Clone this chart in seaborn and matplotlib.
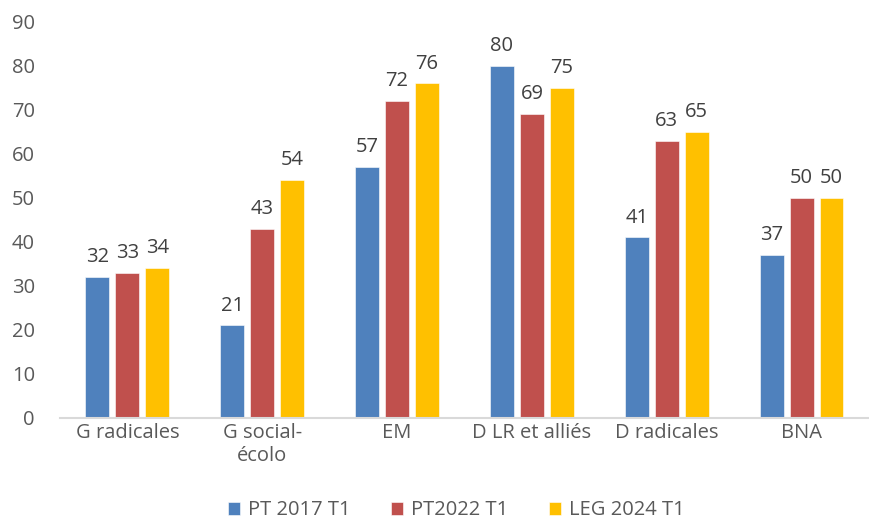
import pandas as pd
import matplotlib
matplotlib.use("Agg")
import matplotlib.pyplot as plt
import seaborn as sns

# Data
categories = ["G radicales", "G social-\nécolo", "EM", "D LR et alliés", "D radicales", "BNA"]
series = ["PT 2017 T1", "PT2022 T1", "LEG 2024 T1"]
pt2017 = [32, 21, 57, 80, 41, 37]
pt2022 = [33, 43, 72, 69, 63, 50]
leg2024 = [34, 54, 76, 75, 65, 50]
colors = ["#4F81BD", "#C0504D", "#FFC000"]

rows = []
for name, vals in zip(series, [pt2017, pt2022, leg2024]):
    for cat, v in zip(categories, vals):
        rows.append({"Groupe": cat, "Scrutin": name, "Valeur": v})
data = pd.DataFrame(rows)

sns.set_style("white")
plt.rcParams["font.family"] = ["Open Sans", "DejaVu Sans"]

fig = plt.figure(figsize=(8.69, 5.19), dpi=100)
ax = fig.add_axes([0.069, 0.195, 0.931, 0.763])

sns.barplot(data=data, x="Groupe", y="Valeur", hue="Scrutin", palette=colors,
            width=0.666, gap=0.2, ax=ax, legend=True, saturation=1,
            edgecolor="white", linewidth=0.4)

for c in ax.containers:
    ax.bar_label(c, padding=7, fontsize=14.5, color="#404040")

ax.set_ylim(0, 90)
ax.set_yticks(range(0, 91, 10))
ax.set_xlabel("")
ax.set_ylabel("")
ax.tick_params(axis="both", labelsize=14.5, labelcolor="#595959", length=0)
ax.tick_params(axis="y", pad=18)
for s in ["top", "right", "left"]:
    ax.spines[s].set_visible(False)
ax.spines["bottom"].set_color("#D9D9D9")
ax.spines["bottom"].set_linewidth(1.5)

ax.legend(loc="lower center", bbox_to_anchor=(0.49, -0.305), ncol=3, frameon=False,
          fontsize=14.5, handlelength=0.6, handleheight=0.6, columnspacing=2.0,
          handletextpad=0.4, labelcolor="#595959")

fig.savefig("out.png", dpi=100)
